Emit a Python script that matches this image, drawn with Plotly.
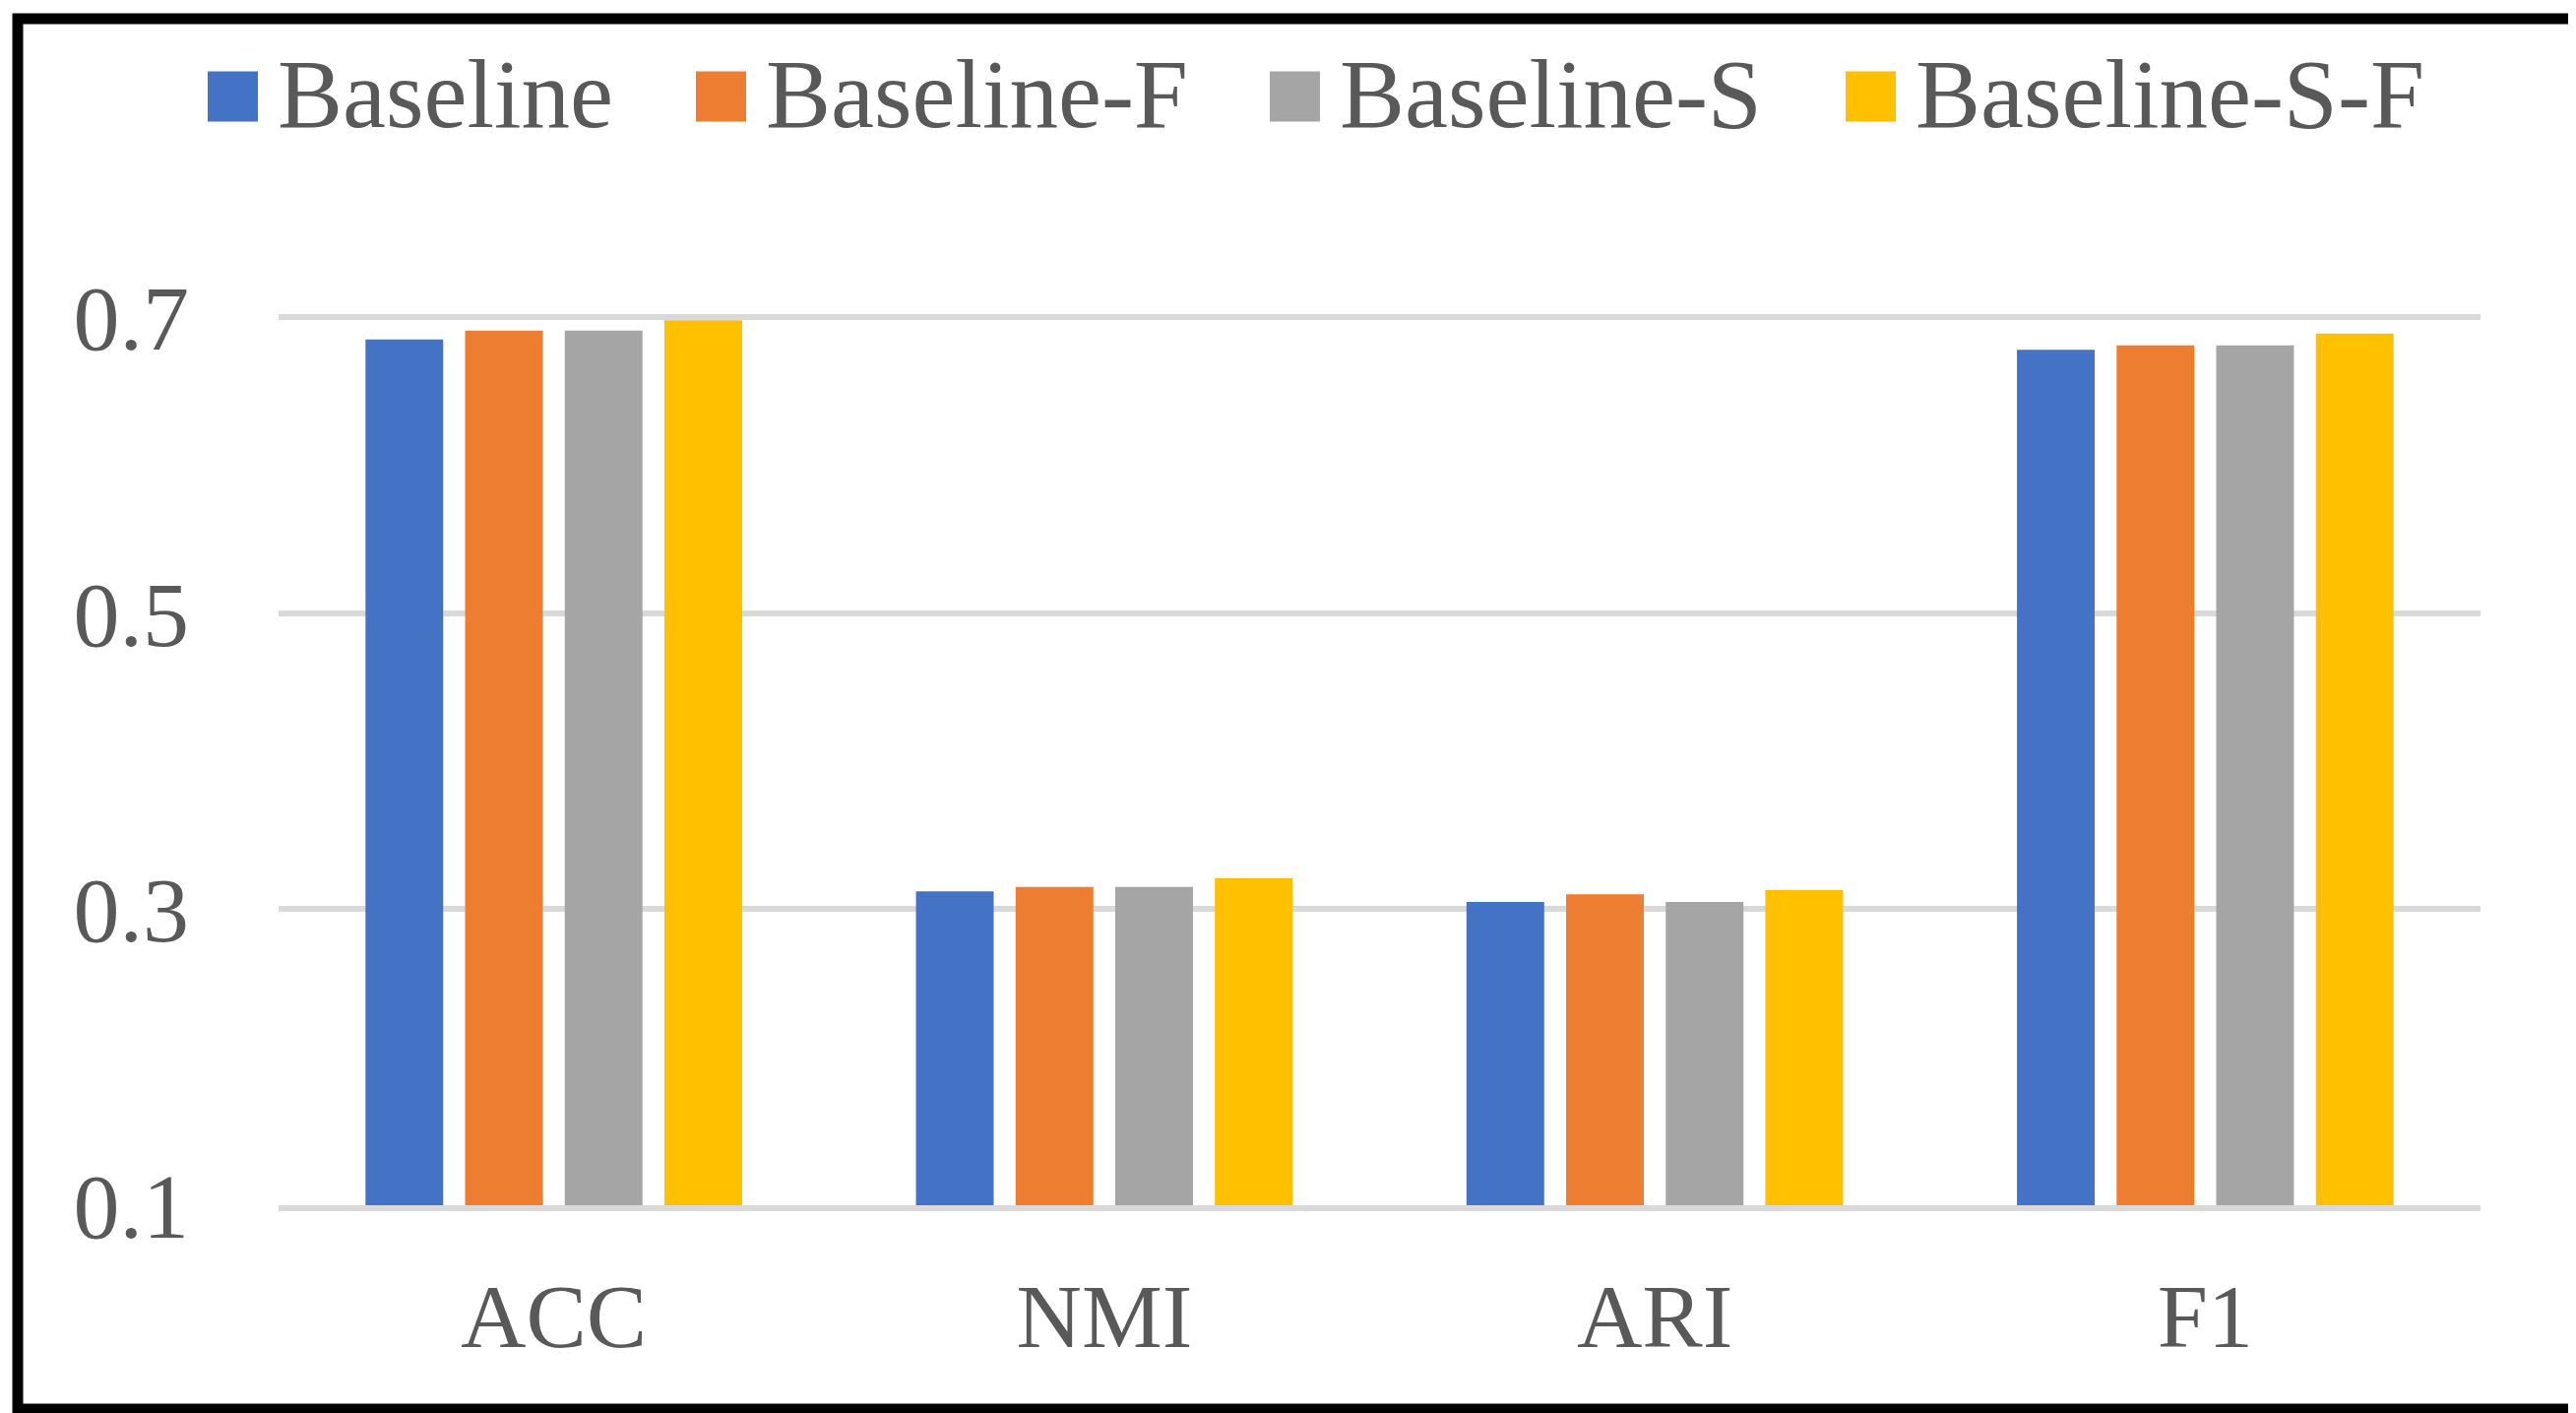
import plotly.graph_objects as go

# ---- data ----
categories = ["ACC", "NMI", "ARI", "F1"]
series_names = ["Baseline", "Baseline-F", "Baseline-S", "Baseline-S-F"]
baseline = [0.685, 0.312, 0.305, 0.678]
baseline_f = [0.691, 0.315, 0.310, 0.681]
baseline_s = [0.691, 0.315, 0.305, 0.681]
baseline_s_f = [0.698, 0.321, 0.313, 0.689]
y_ticks = [0.1, 0.3, 0.5, 0.7]

series_values = [baseline, baseline_f, baseline_s, baseline_s_f]
colors = ["#4472C4", "#ED7D31", "#A5A5A5", "#FFC000"]

# ---- layout geometry (pixels) ----
W, H = 2617, 1435
L, R, T, B = 275, 2512, 313, 1216
PW, PH = R - L, B - T
FONT = "Liberation Serif, Times New Roman, serif"
TXT = "#595959"


def px(x):
    return (x - L) / PW


def py(y):
    return (B - y) / PH


fig = go.Figure()
for name, vals, col in zip(series_names, series_values, colors):
    fig.add_trace(go.Bar(x=categories, y=vals, name=name,
                         marker=dict(color=col, line=dict(width=0)),
                         showlegend=False))

shapes = []
annotations = []

# custom legend (large squares like the original)
legend_square_left = [203, 699, 1282, 1867]
sq = 51
legend_cy = 90
for name, col, x0 in zip(series_names, colors, legend_square_left):
    shapes.append(dict(type="rect", xref="paper", yref="paper",
                       x0=px(x0), x1=px(x0 + sq),
                       y0=py(legend_cy + sq / 2), y1=py(legend_cy - sq / 2),
                       fillcolor=col, line=dict(width=0)))
    annotations.append(dict(text=name, xref="paper", yref="paper",
                            x=px(x0 + sq + 18), y=py(legend_cy - 3),
                            xanchor="left", yanchor="middle", showarrow=False,
                            font=dict(family=FONT, size=99, color=TXT)))

# outer black frame
shapes.append(dict(type="rect", xref="paper", yref="paper",
                   x0=px(10), x1=px(2607), y0=py(1423), y1=py(11),
                   line=dict(color="black", width=11), fillcolor="rgba(0,0,0,0)"))

fig.update_layout(
    width=W, height=H, autosize=False,
    margin=dict(l=L, r=W - R, t=T, b=H - B, pad=0),
    paper_bgcolor="white", plot_bgcolor="white",
    barmode="group", bargap=0.276, bargroupgap=0.22,
    shapes=shapes, annotations=annotations,
    showlegend=False,
    font=dict(family=FONT, color=TXT),
)
fig.update_yaxes(range=[0.1, 0.7008], tickvals=y_ticks, tickformat=".1f",
                 showgrid=True, gridcolor="#D9D9D9", gridwidth=6,
                 zeroline=False, showline=False, ticks="",
                 tickfont=dict(family=FONT, size=94, color=TXT),
                 ticklabelstandoff=90)
fig.update_xaxes(showline=True, linecolor="#D9D9D9", linewidth=6,
                 ticks="", showgrid=False,
                 tickfont=dict(family=FONT, size=92, color=TXT),
                 ticklabelstandoff=28)

fig.write_html("out.html")
